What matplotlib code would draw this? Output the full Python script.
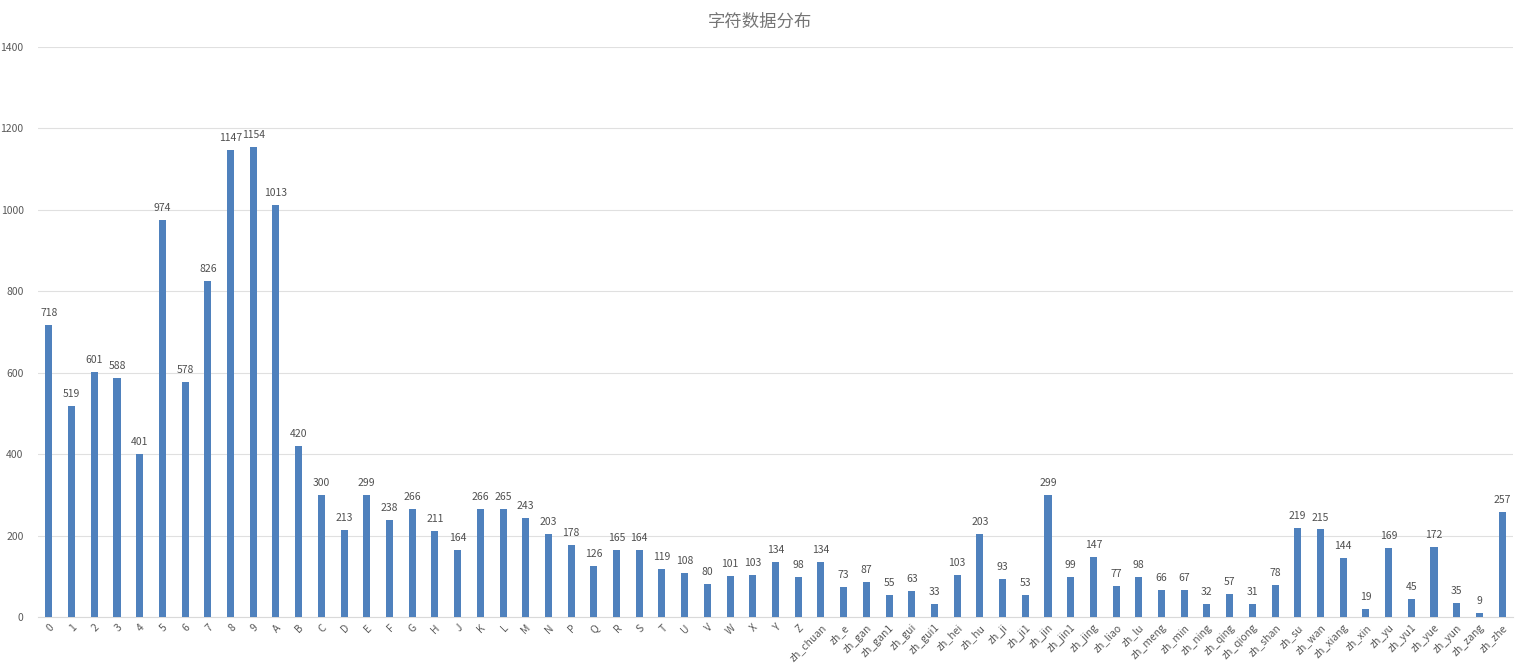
import numpy as np
import matplotlib.pyplot as plt

plt.rcParams['font.family'] = ['Noto Sans CJK SC', 'DejaVu Sans']

# character classes and sample counts
digits = [str(i) for i in range(10)]
letters = ['A', 'B', 'C', 'D', 'E', 'F', 'G', 'H', 'J', 'K', 'L', 'M', 'N',
           'P', 'Q', 'R', 'S', 'T', 'U', 'V', 'W', 'X', 'Y', 'Z']
provinces = ['zh_chuan', 'zh_e', 'zh_gan', 'zh_gan1', 'zh_gui', 'zh_gui1',
             'zh_hei', 'zh_hu', 'zh_ji', 'zh_ji1', 'zh_jin', 'zh_jin1',
             'zh_jing', 'zh_liao', 'zh_lu', 'zh_meng', 'zh_min', 'zh_ning',
             'zh_qing', 'zh_qiong', 'zh_shan', 'zh_su', 'zh_wan', 'zh_xiang',
             'zh_xin', 'zh_yu', 'zh_yu1', 'zh_yue', 'zh_yun', 'zh_zang',
             'zh_zhe']

digit_counts = [718, 519, 601, 588, 401, 974, 578, 826, 1147, 1154]
letter_counts = [1013, 420, 300, 213, 299, 238, 266, 211, 164, 266, 265, 243,
                 203, 178, 126, 165, 164, 119, 108, 80, 101, 103, 134, 98]
province_counts = [134, 73, 87, 55, 63, 33, 103, 203, 93, 53, 299, 99, 147,
                   77, 98, 66, 67, 32, 57, 31, 78, 219, 215, 144, 19, 169,
                   45, 172, 35, 9, 257]

labels = digits + letters + provinces
counts = digit_counts + letter_counts + province_counts
x = np.arange(len(labels))

fig = plt.figure(figsize=(15.2, 6.71), dpi=100)
ax = fig.add_axes([0.0247, 0.0805, 0.971, 0.8495])

bars = ax.bar(x, counts, width=0.31, color='#4f81bd', zorder=3)
ax.bar_label(bars, padding=5, fontsize=7.5, color='#505050')

ax.set_xlim(-0.5, len(labels) - 0.5)
ax.set_ylim(0, 1400)
ax.set_yticks(range(0, 1401, 200))
ax.grid(axis='y', color='#e0e0e0', linewidth=0.8, zorder=0)

ax.set_xticks(x)
ax.set_xticklabels(labels, rotation=45, ha='right', rotation_mode='anchor',
                   fontsize=7.5, color='#595959')
ax.tick_params(axis='y', labelsize=7.5, labelcolor='#595959', length=0, pad=10)
ax.tick_params(axis='x', length=0, pad=4)

for s in ['top', 'right', 'left']:
    ax.spines[s].set_visible(False)
ax.spines['bottom'].set_color('#d9d9d9')

fig.text(0.5, 0.968, '字符数据分布', ha='center', va='center',
         fontsize=12.5, color='#757575')

fig.savefig('out.png', dpi=100)
